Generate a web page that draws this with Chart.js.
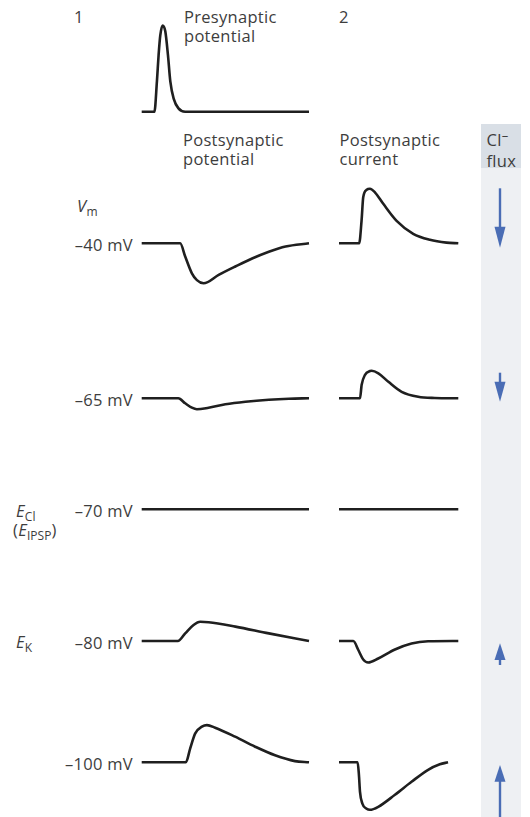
<!DOCTYPE html>
<html><head><meta charset="utf-8">
<script src="https://cdn.jsdelivr.net/npm/chart.js@4.4.1/dist/chart.umd.min.js"></script>
<style>
html,body{margin:0;padding:0;background:#fff;}
#fig{position:relative;width:530px;height:817px;overflow:hidden;font-family:"Open Sans",sans-serif;color:#3d3d3d;font-size:16.5px;letter-spacing:0.3px;}
.t{position:absolute;white-space:nowrap;line-height:19px;}
.r{text-align:right;}
.sub{font-size:12px;position:relative;top:4px;font-style:normal;letter-spacing:0;}
canvas{position:absolute;}
#band{position:absolute;left:481px;top:124px;width:40px;height:693px;background:#eef0f3;}
#bandHead{position:absolute;left:0;top:0;width:40px;height:44px;background:#d9dfe6;}
svg{position:absolute;left:0;top:0;}
</style>
</head>
<body>
<div id="fig">
  <div id="band"><div id="bandHead"></div></div>
  <svg width="530" height="817" id="arrows"></svg>
  <div class="t" style="left:74px;top:7px">1</div>
  <div class="t" style="left:184px;top:7px">Presynaptic<br>potential</div>
  <div class="t" style="left:339px;top:7px">2</div>
  <div class="t" style="left:183px;top:130px">Postsynaptic<br>potential</div>
  <div class="t" style="left:339.5px;top:130px">Postsynaptic<br>current</div>
  <div class="t" style="left:486.5px;top:130px">Cl<span style="position:relative;top:-6px;font-size:13px">–</span><br>flux</div>
  <div class="t" style="left:77px;top:196px"><i>V</i><span class="sub">m</span></div>
  <div id="mvLabels"></div>
  <div class="t" style="left:16px;top:501px"><i>E</i><span class="sub">Cl</span></div>
  <div class="t" style="left:13px;top:520px">(<i>E</i><span class="sub">IPSP</span>)</div>
  <div class="t" style="left:16px;top:632px"><i>E</i><span class="sub">K</span></div>
</div>
<script>
// ---------- data ----------
// Holding potentials (mV) for each row and their tick labels
const holdingMv = [-40, -65, -70, -80, -100];
const holdingLabels = ['–40 mV', '–65 mV', '–70 mV', '–80 mV', '–100 mV'];

// Presynaptic action potential (time ms, mV)
const preT = [0, 7.6, 9.1, 10.1, 11.1, 12.5, 14.1, 15.7, 17.1, 19.1, 22, 26, 100];
const preV = [-65, -65, -28, 4, 28, 40, 33, 4, -28, -49, -61, -65, -65];

// Postsynaptic potentials (time ms, mV)
const psp40T = [0, 23, 26, 30, 33, 37, 46, 56, 66, 76, 86, 100];
const psp40V = [-40, -40, -43.3, -47.5, -49.2, -50, -47.9, -45.8, -43.8, -42.1, -40.8, -40];
const psp65T = [0, 21.9, 26, 30, 33, 40, 50, 62, 76, 88, 100];
const psp65V = [-65, -65, -66.25, -67.35, -67.75, -67.35, -66.5, -65.85, -65.35, -65.1, -65];
const psp70T = [0, 100];
const psp70V = [-70, -70];
const psp80T = [0, 21.6, 26, 31, 35, 40, 56, 76, 100];
const psp80V = [-80, -80, -78.1, -76, -75.2, -75.3, -76.4, -78.1, -80];
const psp100T = [0, 26.4, 29, 32, 36, 39, 43.9, 55.8, 67.8, 79.7, 91.6, 100];
const psp100V = [-100, -100, -96.5, -92.75, -91.1, -90.7, -91.35, -93.6, -96.1, -98.25, -99.7, -100];

// Postsynaptic currents (time ms, pA; outward positive)
const psc40T = [0, 16.9, 18.9, 20.3, 23.2, 25.9, 30.1, 37.1, 48.3, 62.2, 76.2, 90.1, 100];
const psc40I = [0, 0, 45, 92, 107, 109, 102, 79, 45, 19, 7, 1.4, 0];
const psc65T = [0, 17.6, 19, 21.8, 26, 27.4, 33, 41.4, 52.5, 66.4, 80.3, 100];
const psc65I = [0, 0, 27, 47, 54.6, 55.2, 50, 33, 13, 3, 0.6, 0];
const psc70T = [0, 100];
const psc70I = [0, 0];
const psc80T = [0, 12, 16.2, 20.3, 24.5, 32.9, 46.9, 60.8, 74.7, 100];
const psc80I = [0, 0, -18, -37, -43, -35, -17, -5, -0.6, 0];
const psc100T = [0, 15.6, 16.7, 17.6, 19.5, 23.2, 25.9, 32.9, 46.9, 60.8, 74.7, 84.5, 91.4];
const psc100I = [0, 0, -25, -59, -82, -93, -95, -89, -65, -39, -15, -4, 0];

// Cl- flux direction per row: -1 inward (down), 0 none, +1 outward (up)
const clFlux = [-1, -1, 0, 1, 1];

// ---------- layout / style (not data) ----------
const fig = document.getElementById('fig');
const col1 = {x0: 141.7, x1: 309};
const col2 = {x0: 339, x1: 458.3};
const rowBasePx = [243.3, 398.3, 509.3, 641, 762.3];
const preBasePx = 111.7;
const LINE = '#1f1f1f';

function trace(xs, ys, col, basePx, baseVal, k, lo, hi) {
  const top = basePx - (hi - baseVal) * k;
  const bottom = basePx + (baseVal - lo) * k;
  const cl = Math.floor(col.x0) - 4, cr = Math.ceil(col.x1) + 4;
  const ct = Math.floor(top) - 4, cb = Math.ceil(bottom) + 4;
  const cv = document.createElement('canvas');
  cv.width = cr - cl; cv.height = cb - ct;
  cv.style.left = cl + 'px'; cv.style.top = ct + 'px';
  cv.style.width = (cr - cl) + 'px'; cv.style.height = (cb - ct) + 'px';
  fig.appendChild(cv);
  new Chart(cv.getContext('2d'), {
    type: 'line',
    data: {datasets: [{
      data: xs.map((x, i) => ({x: x, y: ys[i]})),
      borderColor: LINE, borderWidth: 2.6, pointRadius: 0,
      cubicInterpolationMode: 'monotone', fill: false, clip: false,
      borderCapStyle: 'butt', borderJoinStyle: 'round'
    }]},
    options: {
      responsive: false, animation: false, events: [],
      layout: {padding: {left: col.x0 - cl, right: cr - col.x1, top: top - ct, bottom: cb - bottom}},
      plugins: {legend: {display: false}, tooltip: {enabled: false}},
      scales: {
        x: {type: 'linear', min: 0, max: 100, display: false},
        y: {type: 'linear', min: lo, max: hi, display: false}
      }
    }
  });
}

// presynaptic
trace(preT, preV, col1, preBasePx, -65, 0.82, -70, 45);
// column 1 : postsynaptic potentials (4 px per mV)
trace(psp40T, psp40V, col1, rowBasePx[0], holdingMv[0], 4, -52, -36);
trace(psp65T, psp65V, col1, rowBasePx[1], holdingMv[1], 4, -70, -62);
trace(psp70T, psp70V, col1, rowBasePx[2], holdingMv[2], 4, -72, -68);
trace(psp80T, psp80V, col1, rowBasePx[3], holdingMv[3], 4, -82, -73);
trace(psp100T, psp100V, col1, rowBasePx[4], holdingMv[4], 4, -102, -88);
// column 2 : postsynaptic currents (0.5 px per pA)
trace(psc40T, psc40I, col2, rowBasePx[0], 0, 0.5, -10, 120);
trace(psc65T, psc65I, col2, rowBasePx[1], 0, 0.5, -10, 70);
trace(psc70T, psc70I, col2, rowBasePx[2], 0, 0.5, -10, 10);
trace(psc80T, psc80I, col2, rowBasePx[3], 0, 0.5, -50, 10);
trace(psc100T, psc100I, col2, rowBasePx[4], 0, 0.5, -105, 10);

// holding potential labels
const mv = document.getElementById('mvLabels');
holdingLabels.forEach((s, i) => {
  const d = document.createElement('div');
  d.className = 't r';
  d.style.right = (530 - 133) + 'px';
  d.style.top = (rowBasePx[i] + 8 - 16) + 'px';
  d.textContent = s;
  fig.appendChild(d);
});

// Cl- flux arrows (style geometry)
const arrowGeom = [
  {tail: 188.3, headBase: 226.7, tip: 247.7},
  {tail: 372.7, headBase: 381.7, tip: 401.7},
  null,
  {tail: 665, headBase: 660, tip: 643.3},
  {tail: 820, headBase: 781.7, tip: 765}
];
const svg = document.getElementById('arrows');
const ns = 'http://www.w3.org/2000/svg';
const AX = 500, BLUE = '#4a6db5';
clFlux.forEach((f, i) => {
  const g = arrowGeom[i];
  if (!f || !g) return;
  const ln = document.createElementNS(ns, 'line');
  ln.setAttribute('x1', AX); ln.setAttribute('x2', AX);
  ln.setAttribute('y1', g.tail); ln.setAttribute('y2', g.headBase + (f < 0 ? 1 : -1));
  ln.setAttribute('stroke', BLUE); ln.setAttribute('stroke-width', 2.4);
  svg.appendChild(ln);
  const p = document.createElementNS(ns, 'polygon');
  p.setAttribute('points', `${AX-5.5},${g.headBase} ${AX+5.5},${g.headBase} ${AX},${g.tip}`);
  p.setAttribute('fill', BLUE);
  svg.appendChild(p);
});
</script>
</body></html>
